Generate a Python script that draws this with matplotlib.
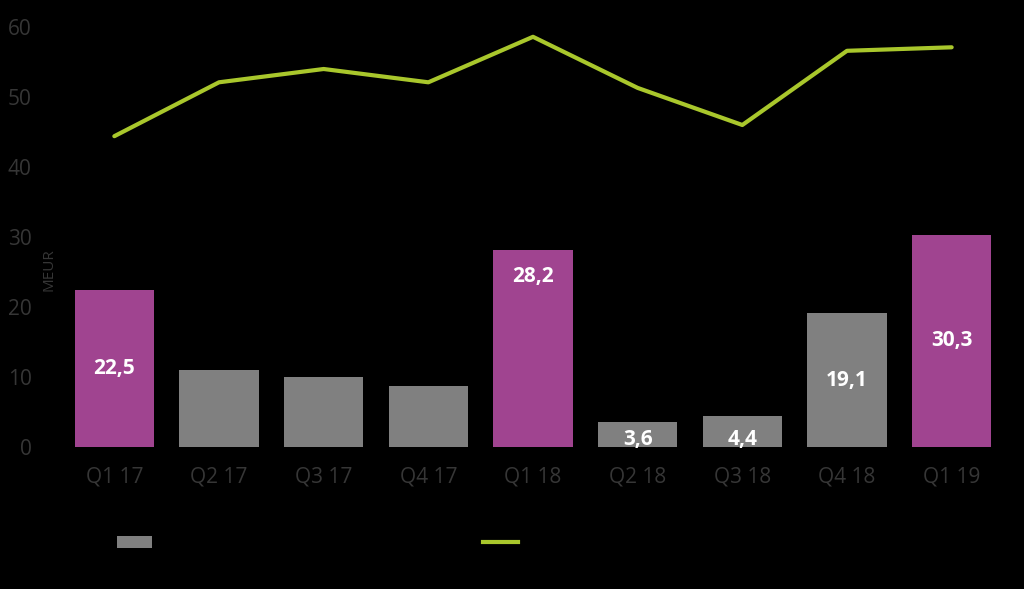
import matplotlib.pyplot as plt
from matplotlib.patches import Patch
from matplotlib.lines import Line2D

# data
quarters = ['Q1 17', 'Q2 17', 'Q3 17', 'Q4 17', 'Q1 18', 'Q2 18', 'Q3 18', 'Q4 18', 'Q1 19']
bar_values = [22.5, 11.0, 10.0, 8.7, 28.2, 3.6, 4.4, 19.1, 30.3]
line_values = [44.4, 52.1, 54.0, 52.1, 58.6, 51.3, 46.0, 56.6, 57.1]
bar_labels = ['22,5', '', '', '', '28,2', '3,6', '4,4', '19,1', '30,3']
highlight = [True, False, False, False, True, False, False, False, True]

purple = '#A04490'
grey = '#808080'
green = '#A9C72C'
tick_col = '#363636'

plt.rcParams['font.family'] = ['Open Sans', 'DejaVu Sans']

fig = plt.figure(figsize=(10.24, 5.89), dpi=100, facecolor='black')
ax = fig.add_axes([62 / 1024, 1 - 447 / 589, (1004 - 62) / 1024, 420 / 589])
ax.set_facecolor('black')

x = list(range(len(quarters)))
colors = [purple if h else grey for h in highlight]
ax.bar(x, bar_values, width=0.76, color=colors, zorder=2)
ax.plot(x, line_values, color=green, lw=3, solid_capstyle='round', zorder=3)

# value labels, mostly centred in the bar
for i, (v, lab) in enumerate(zip(bar_values, bar_labels)):
    if not lab:
        continue
    if v > 25 and i == 4:
        y = v - 3.8
    elif v < 6:
        y = 1.0
    else:
        y = v / 2
    ax.text(i, y, lab, ha='center', va='center', color='white',
            fontsize=15, fontweight='bold', zorder=4)

ax.set_xlim(-0.5, len(quarters) - 0.5)
ax.set_ylim(0, 60)
ax.set_yticks(range(0, 61, 10))
ax.set_xticks(x)
ax.set_xticklabels(quarters)
ax.tick_params(colors=tick_col, labelsize=15, length=0)
ax.tick_params(axis='x', pad=14)
ax.tick_params(axis='y', pad=22)
for s in ax.spines.values():
    s.set_visible(False)

fig.text(49 / 1024, 1 - 270 / 589, 'MEUR', rotation=90, color=tick_col,
         fontsize=11, ha='center', va='center')

handles = [Patch(facecolor=grey), Line2D([0], [0], color=green, lw=3)]
fig.legend(handles, ['', ''], loc='center left', ncol=2, frameon=False,
           bbox_to_anchor=(117 / 1024, 1 - 544 / 589), borderpad=0,
           borderaxespad=0, handlelength=2.1, handletextpad=0,
           columnspacing=19.85, fontsize=12)

fig.savefig('out.png', dpi=100, facecolor='black')
